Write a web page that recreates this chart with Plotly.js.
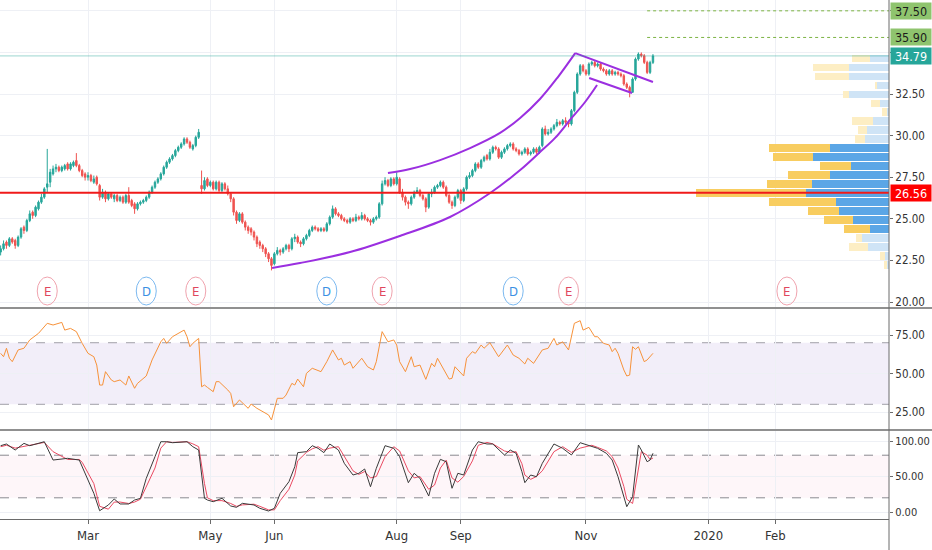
<!DOCTYPE html>
<html><head><meta charset="utf-8">
<script src="https://cdn.plot.ly/plotly-3.0.1.min.js"></script>
<style>html,body{margin:0;padding:0;background:#fff}#chart{width:932px;height:550px}</style>
</head><body><div id="chart"></div>
<script>
// ---------- data ----------
const holidays = ['2019-01-21','2019-02-18','2019-04-19','2019-05-27','2019-07-04','2019-09-02','2019-11-28'];

const openP = [23.0,23.2,23.6,23.4,23.8,23.7,23.4,23.9,24.5,24.3,
24.9,25.4,25.2,25.6,26.0,26.3,26.9,27.2,27.7,28.0,
28.1,27.9,28.0,28.3,28.0,28.2,28.5,28.2,27.9,27.7,
27.5,27.6,27.2,27.5,27.0,26.3,26.6,26.2,26.5,26.2,
26.4,26.1,26.3,26.0,26.4,26.1,25.9,25.6,25.9,26.0,
26.1,26.3,26.6,26.9,27.2,27.4,27.7,28.1,28.4,28.6,
28.8,29.1,29.3,29.5,29.8,29.6,29.2,29.4,29.9,27.0,
26.8,27.4,27.0,27.2,26.8,27.2,26.7,27.1,26.8,26.5,
26.2,25.4,24.9,25.3,24.8,24.5,24.4,24.2,23.9,23.6,
23.4,23.2,22.9,22.6,22.3,22.9,23.1,23.0,23.2,23.4,
23.2,23.8,23.9,23.6,23.5,23.8,24.0,24.3,24.5,24.4,
24.3,24.4,24.3,24.7,25.1,25.6,25.3,25.2,25.0,24.9,
24.8,25.0,24.9,25.1,25.0,25.2,25.0,24.9,24.8,25.0,
25.1,25.9,27.1,27.3,27.0,27.4,27.1,27.4,26.6,26.3,
26.0,25.9,26.3,26.6,26.7,26.4,26.2,25.7,26.5,26.6,
26.9,27.0,27.2,26.9,26.4,26.0,25.8,26.3,26.7,26.1,
26.8,27.5,27.6,27.9,28.3,28.1,28.5,28.8,28.6,29.0,
29.3,29.2,28.7,29.0,29.2,29.4,29.5,29.2,29.1,28.9,
29.0,29.2,28.9,29.0,29.2,29.0,29.4,30.4,30.1,30.2,
30.4,30.6,30.8,30.7,30.9,30.8,30.7,31.5,32.6,33.7,
34.2,33.9,33.7,34.3,34.4,34.2,34.3,34.0,33.9,33.7,
33.9,33.7,33.8,33.7,33.6,33.1,32.9,32.6,33.4,34.6,
34.9,34.8,34.4,33.8,34.4];
const highP = [23.4,23.7,23.7,23.9,23.9,23.8,24.0,24.5,24.6,25.0,
25.5,25.5,25.8,26.1,26.5,26.9,29.2,28.0,28.2,28.3,
28.2,28.2,28.3,28.4,28.4,28.5,28.95,28.3,28.0,27.8,
27.8,27.7,27.6,27.6,27.1,26.8,26.7,26.6,26.6,26.5,
26.5,26.4,26.4,26.5,26.9,26.2,26.0,26.0,26.1,26.2,
26.4,26.7,27.0,27.3,27.5,27.8,28.2,28.5,28.7,28.9,
29.2,29.4,29.6,29.9,29.9,29.7,29.5,30.0,30.4,27.9,
27.5,27.5,27.3,27.3,27.3,27.3,27.2,27.2,27.0,26.6,
26.3,25.5,25.4,25.4,24.9,24.6,24.5,24.3,24.0,23.7,
23.5,23.3,23.0,22.7,23.0,23.3,23.2,23.3,23.5,23.5,
23.9,24.1,24.0,23.7,23.9,24.1,24.4,24.6,24.6,24.5,
24.5,24.5,24.8,25.2,25.8,25.7,25.4,25.3,25.1,25.0,
25.1,25.1,25.3,25.2,25.4,25.3,25.1,25.0,25.1,25.2,
26.0,27.3,27.5,27.4,27.5,27.5,27.8,27.5,26.8,26.4,
26.1,26.4,26.7,26.9,26.8,26.5,26.3,26.6,26.8,27.0,
27.1,27.3,27.3,27.0,26.5,26.1,26.4,26.8,26.8,26.9,
27.6,27.8,28.0,28.4,28.4,28.6,28.8,28.9,29.2,29.4,
29.4,29.3,29.1,29.3,29.5,29.6,29.6,29.3,29.2,29.1,
29.3,29.3,29.1,29.3,29.3,29.4,30.5,30.6,30.4,30.5,
30.7,31.0,30.9,31.0,31.1,30.9,31.6,32.7,33.8,34.3,
34.3,34.0,34.4,34.5,34.5,34.4,34.4,34.1,34.0,34.0,
34.0,33.9,33.9,33.8,33.7,33.2,33.0,33.5,34.7,35.0,
35.0,34.9,34.5,34.5,34.9];
const lowP = [22.8,23.1,23.2,23.3,23.5,23.2,23.3,23.8,24.1,24.2,
24.8,25.0,25.1,25.5,25.9,26.2,26.6,26.9,27.6,27.8,
27.8,27.8,27.9,27.9,27.9,28.1,28.1,27.8,27.5,27.3,
27.3,27.2,27.1,27.0,26.1,26.2,26.0,26.1,26.2,26.0,
26.0,26.0,25.9,25.9,25.9,25.7,25.3,25.5,25.8,25.9,
26.0,26.2,26.5,26.8,27.1,27.3,27.6,28.0,28.3,28.5,
28.7,29.0,29.2,29.4,29.5,29.2,29.1,29.3,29.8,26.5,
26.7,26.9,26.9,26.7,26.7,26.6,26.6,26.7,26.4,26.0,
25.2,24.7,24.8,24.7,24.3,24.1,24.0,23.7,23.3,23.2,
23.0,22.7,22.4,21.9,22.2,22.8,22.8,22.9,23.1,23.0,
23.1,23.6,23.5,23.3,23.4,23.7,23.9,24.2,24.3,24.2,
24.2,24.2,24.2,24.6,25.0,25.2,25.1,24.9,24.8,24.7,
24.7,24.8,24.8,24.9,24.9,24.9,24.8,24.6,24.7,24.9,
25.0,25.8,27.0,26.9,26.9,27.0,27.0,26.5,26.1,25.8,
25.6,25.8,26.2,26.5,26.3,26.1,25.4,25.6,26.3,26.5,
26.8,26.9,26.8,26.3,25.9,25.6,25.7,26.2,25.9,26.0,
26.7,27.4,27.5,27.8,28.0,28.0,28.4,28.5,28.5,28.9,
29.1,28.6,28.6,28.9,29.1,29.3,29.1,29.0,28.8,28.8,
28.9,28.8,28.8,28.9,28.9,28.9,29.3,30.0,30.0,30.1,
30.3,30.5,30.6,30.6,30.7,30.5,30.6,31.4,32.5,33.6,
33.8,33.6,33.6,34.2,34.1,34.1,33.9,33.8,33.6,33.6,
33.6,33.6,33.6,33.5,33.0,32.8,32.3,32.6,33.3,34.5,
34.7,34.3,33.7,33.7,34.3];
const closeP = [23.2,23.5,23.4,23.8,23.6,23.4,23.9,24.4,24.3,24.9,
25.3,25.2,25.7,26.0,26.3,26.8,27.1,27.8,28.0,28.1,
27.9,28.1,28.2,28.0,28.3,28.4,28.2,27.9,27.6,27.5,
27.6,27.3,27.4,27.1,26.3,26.6,26.2,26.5,26.3,26.4,
26.1,26.3,26.0,26.4,26.0,25.8,25.6,25.9,26.0,26.1,
26.3,26.6,26.9,27.2,27.4,27.7,28.1,28.4,28.6,28.8,
29.1,29.3,29.5,29.8,29.6,29.3,29.4,29.9,30.2,26.8,
27.3,27.0,27.2,26.8,27.2,26.7,27.1,26.8,26.5,26.2,
25.4,24.9,25.3,24.8,24.5,24.3,24.2,23.9,23.5,23.4,
23.2,22.9,22.6,22.2,22.9,23.1,23.0,23.2,23.4,23.2,
23.8,23.9,23.6,23.5,23.8,24.0,24.3,24.5,24.4,24.3,
24.4,24.3,24.7,25.1,25.6,25.3,25.2,25.0,24.9,24.8,
25.0,24.9,25.1,25.0,25.2,25.0,24.9,24.8,25.0,25.1,
25.9,27.1,27.3,27.0,27.4,27.1,27.5,26.6,26.3,26.0,
25.9,26.3,26.6,26.7,26.4,26.2,25.7,26.5,26.6,26.9,
27.0,27.2,26.9,26.4,26.0,25.8,26.3,26.7,26.1,26.8,
27.5,27.6,27.9,28.3,28.1,28.5,28.7,28.6,29.0,29.3,
29.2,28.7,29.0,29.2,29.4,29.5,29.2,29.1,28.9,29.0,
29.2,28.9,29.0,29.2,29.0,29.3,30.4,30.1,30.2,30.4,
30.6,30.8,30.7,30.9,30.8,30.7,31.5,32.6,33.7,34.2,
33.9,33.7,34.3,34.4,34.2,34.3,34.0,33.9,33.7,33.9,
33.7,33.8,33.7,33.6,33.1,32.9,32.6,33.4,34.6,34.9,
34.8,34.4,33.8,34.4,34.79];

const rsiIdx = [0,1,2,3,4,6,8,10,13,16,18,21,22,24,26,28,30,32,33,34,35,36,38,39,41,43,44,46,47,50,52,53,55,56,57,59,61,63,64,65,66,68,69,70,71,73,74,75,78,79,80,82,85,86,88,92,93,95,97,98,100,101,102,104,105,107,110,112,114,116,117,118,120,121,124,126,128,129,131,133,135,136,137,139,141,142,144,146,148,149,150,153,154,155,156,159,160,162,163,165,166,168,171,174,176,178,180,181,183,186,188,190,191,193,195,197,199,200,202,204,205,207,209,210,211,212,214,215,216,217,218,219,221,222,224];
const rsiVal = [63.1,60.9,66.4,59.9,57.7,65.3,66.4,71.8,76.1,82.6,81.5,83.2,78.2,79.3,77.2,69.6,63.1,60.9,55.5,42.5,42.5,51.2,45.8,44.7,45.8,42.5,48.4,40.4,43.6,48.4,58.8,63.1,70.6,72.8,69.6,73.9,76.1,78.2,73.9,67.4,69.6,72.8,41.4,42.5,41.0,38.2,44.7,44.7,39.3,37.1,28.4,32.8,27.4,30.2,27.4,23.1,19.8,33.9,33.9,36.0,43.6,42.5,46.4,41.4,50.1,53.4,51.2,57.7,65.3,58.8,59.9,55.5,57.7,53.4,59.9,54.4,52.3,57.7,77.2,70.6,71.8,68.5,57.7,51.2,60.9,54.4,55.5,46.2,56.6,54.4,59.9,49.0,46.4,46.9,54.4,48.4,59.9,64.2,63.1,68.5,66.4,70.0,60.9,68.5,62.0,59.9,56.2,59.9,56.6,65.3,66.4,72.8,68.5,70.6,65.3,82.6,84.3,78.2,80.0,73.9,73.9,69.6,68.5,64.2,66.4,63.1,52.3,48.4,49.0,67.4,65.7,67.4,57.7,58.8,63.1];

const stochIdx = [0,2,5,8,10,15,18,23,27,28,32,34,37,39,41,44,46,48,50,53,55,57,59,64,66,68,70,71,73,76,79,81,83,87,89,92,94,96,99,101,102,105,107,109,111,113,116,118,121,123,125,127,129,132,135,137,140,142,144,147,149,151,153,155,157,159,162,164,167,169,173,175,177,179,180,182,184,186,190,193,196,199,203,205,208,210,212,214,215,217,219,220,222,223,224];
const stochK = [93.4,95.8,87.3,96.7,93.4,99,73.2,75.6,73.2,63.8,26.3,1.8,9.9,18.3,11.3,11.3,16.9,19.2,47.4,77.9,99,99,97.6,99,92.0,87.3,19.3,16.9,14.5,19.3,8.5,6.6,12.2,9.9,5.2,1.4,5.2,26.3,42.7,63.8,83.6,85,93.4,89.7,83.6,95.8,87.3,68.6,52.1,54.5,60.6,35.6,61.5,93.4,89.7,77.9,41.3,54.5,47.4,22.5,54.5,74.2,70.8,33.4,54.5,52.1,87.3,99,95.8,95.8,80.3,87.3,82.7,56.8,41.3,52.1,49.7,68.6,95.8,89.7,80.3,97.6,92.0,89.7,82.7,73.2,49.7,21.5,7.5,21.5,94.4,87.3,70.8,73.2,82.7];
const stochD = [92,94,90,93,94,98,85,74,74,70,40,8,4,14,14,12,14,18,35,62,90,99,98,99,96,92,40,20,16,16,12,8,10,11,8,3,3,16,32,52,72,84,89,92,87,90,92,78,58,53,57,48,50,78,92,86,58,48,50,32,38,62,73,48,42,50,72,94,98,96,86,84,85,68,52,46,50,58,85,92,84,90,94,91,86,78,62,36,18,12,60,85,80,74,76];

// visible-range volume profile (row price, up volume, down volume, in value area)
const vpPrice = [22.22,22.76,23.30,23.84,24.38,24.92,25.46,26.00,26.54,27.08,27.62,28.16,28.70,29.24,29.78,30.32,30.86,31.40,31.94,32.48,33.02,33.56,34.10,34.64];
const vpUp    = [2,4,21,27,19,36,50,53,83,77,59,38,76,59,24,22,16,2,9,40,12,40,40,19];
const vpDown  = [3,5,19,6,26,29,31,67,110,45,42,31,40,61,10,9,21,5,9,6,2,34,36,18];
const vpValueArea = [0,0,0,0,1,1,1,1,1,1,1,1,1,1,0,0,0,0,0,0,0,0,0,0];

// drawings (bar index, price)
const lowerArcIdx = [93.2,102.8,120.0,137.1,154.3,168.1,178.4,185.2,190.4,195.5,200.7,204.8];
const lowerArcPrice = [22.04,22.34,23.00,23.97,25.11,26.55,27.93,29.01,29.86,30.94,32.02,33.04];
const upperArcIdx = [133.0,140.6,150.9,161.2,171.5,178.4,185.2,191.1,197.3];
const upperArcPrice = [27.75,27.99,28.53,29.25,30.16,31.06,32.2,33.46,34.96];
const flagTopIdx = [197.3,224.0];  const flagTopPrice = [34.96,33.22];
const flagBotIdx = [202.1,216.8];  const flagBotPrice = [33.46,32.56];
const targetLevels = [37.50,35.90];
const targetStartIdx = 222;
const supportLevel = 26.56;
const lastPrice = 34.79;
const earningsIdx = [16,67,131,195,270];
const dividendIdx = [50,112,176];
const eventLevel = 20.66;

const tickDates = ['2019-03-01 12:00:00','2019-05-01 12:00:00','2019-06-03 12:00:00','2019-08-01 12:00:00','2019-09-03 12:00:00','2019-11-01 12:00:00','2020-01-01 12:00:00','2020-02-03 12:00:00'];
const tickText = ['Mar','May','Jun','Aug','Sep','Nov','2020','Feb'];
const priceTicks = [20,22.5,25,27.5,30,32.5,35,37.5];
const priceTickText = ['20.00','22.50','25.00','27.50','30.00','32.50','',''];

// ---------- trading calendar ----------
const dayMs = [];
let t = Date.UTC(2019,0,16);
while (dayMs.length < 330) {
  const dt = new Date(t); const wd = dt.getUTCDay(); const s = dt.toISOString().slice(0,10);
  if (wd !== 0 && wd !== 6 && holidays.indexOf(s) < 0) dayMs.push(t + 12*3600000);
  t += 86400000;
}
function fmt(ms){ return new Date(ms).toISOString().slice(0,19).replace('T',' '); }
function xAt(f){ const k = Math.round(f); return fmt(dayMs[k] + (f-k)*86400000); }
const candleX = closeP.map((_, i) => xAt(i));
const xStart = xAt(-0.22), xEnd = xAt(305.05);

const FONT = '"DejaVu Sans Condensed","Liberation Sans",sans-serif';
const PURPLE = '#9b2fe0';
const TICKSIZE = 11.5;

const traces = [];
traces.push({type:'candlestick', x:candleX, open:openP, high:highP, low:lowP, close:closeP,
  xaxis:'x', yaxis:'y', hoverinfo:'skip',
  increasing:{line:{color:'#26a69a', width:1}, fillcolor:'#26a69a'},
  decreasing:{line:{color:'#ef5350', width:1}, fillcolor:'#ef5350'}});
traces.push({type:'bar', orientation:'h', y:vpPrice, x:vpUp, xaxis:'x2', yaxis:'y', width:0.46,
  marker:{color:vpValueArea.map(v => v ? '#5ba6e6' : '#cfe4f6'), line:{width:0}}, hoverinfo:'skip'});
traces.push({type:'bar', orientation:'h', y:vpPrice, x:vpDown, xaxis:'x2', yaxis:'y', width:0.46,
  marker:{color:vpValueArea.map(v => v ? '#f8cd60' : '#fdeec4'), line:{width:0}}, hoverinfo:'skip'});
function lineTrace(idx, pr, smooth){
  return {type:'scatter', mode:'lines', x:idx.map(xAt), y:pr, xaxis:'x', yaxis:'y',
    line:{color:PURPLE, width:2, shape: smooth ? 'spline' : 'linear'}, hoverinfo:'skip'};
}
traces.push(lineTrace(lowerArcIdx, lowerArcPrice, true));
traces.push(lineTrace(upperArcIdx, upperArcPrice, true));
traces.push(lineTrace(flagTopIdx, flagTopPrice, false));
traces.push(lineTrace(flagBotIdx, flagBotPrice, false));
traces.push({type:'scatter', mode:'lines', x:rsiIdx.map(xAt), y:rsiVal, xaxis:'x', yaxis:'y2',
  line:{color:'#f7923a', width:1}, hoverinfo:'skip'});
traces.push({type:'scatter', mode:'lines', x:stochIdx.map(xAt), y:stochD, xaxis:'x', yaxis:'y3',
  line:{color:'#ea4a62', width:1}, hoverinfo:'skip'});
traces.push({type:'scatter', mode:'lines', x:stochIdx.map(xAt), y:stochK, xaxis:'x', yaxis:'y3',
  line:{color:'#3a3a3a', width:1}, hoverinfo:'skip'});

const shapes = [];
shapes.push({type:'rect', xref:'paper', x0:0, x1:1, yref:'y2', y0:30, y1:70, fillcolor:'rgba(126,87,194,0.10)', line:{width:0}, layer:'below'});
shapes.push({type:'rect', xref:'paper', x0:0, x1:1, yref:'y3', y0:20, y1:80, fillcolor:'rgba(233,30,99,0.04)', line:{width:0}, layer:'below'});
[70,30].forEach(v => shapes.push({type:'line', xref:'paper', x0:0, x1:1, yref:'y2', y0:v, y1:v, line:{color:'#a0a0a8', width:1, dash:'dash'}, layer:'below'}));
[80,20].forEach(v => shapes.push({type:'line', xref:'paper', x0:0, x1:1, yref:'y3', y0:v, y1:v, line:{color:'#8a8a90', width:1, dash:'dash'}, layer:'below'}));
shapes.push({type:'line', xref:'paper', x0:0, x1:1, yref:'y', y0:lastPrice, y1:lastPrice, line:{color:'rgba(38,166,154,0.45)', width:1}, layer:'above'});
shapes.push({type:'line', xref:'paper', x0:0, x1:1, yref:'y', y0:supportLevel, y1:supportLevel, line:{color:'#f01a1a', width:2}, layer:'above'});
targetLevels.forEach(v => shapes.push({type:'line', xref:'x', x0:xAt(targetStartIdx), x1:xEnd, yref:'y', y0:v, y1:v, line:{color:'#7cb342', width:1, dash:'dot'}, layer:'above'}));
const H = 519;
[308, 430].forEach(py => shapes.push({type:'line', xref:'paper', x0:0, x1:932/889, yref:'paper', y0:(H-py)/H, y1:(H-py)/H, line:{color:'#6b6b6b', width:1.5}, layer:'above'}));
shapes.push({type:'line', xref:'paper', x0:1, x1:1, yref:'paper', y0:-31/H, y1:1, line:{color:'#6b6b6b', width:1}, layer:'above'});
function eventShape(i, col){
  return {type:'circle', xref:'x', yref:'y', xsizemode:'pixel', ysizemode:'pixel', xanchor:xAt(i), yanchor:eventLevel,
    x0:-10, x1:10, y0:-14, y1:14, line:{color:col, width:1}, fillcolor:'rgba(255,255,255,0)', layer:'above'};
}
earningsIdx.forEach(i => shapes.push(eventShape(i, '#f0a3ae')));
dividendIdx.forEach(i => shapes.push(eventShape(i, '#7cb9f0')));

const annotations = [];
earningsIdx.forEach(i => annotations.push({xref:'x', yref:'y', x:xAt(i), y:eventLevel, text:'E', showarrow:false, font:{family:FONT, size:13, color:'#e0475d'}}));
dividendIdx.forEach(i => annotations.push({xref:'x', yref:'y', x:xAt(i), y:eventLevel, text:'D', showarrow:false, font:{family:FONT, size:13, color:'#3b8fe3'}}));
function priceBox(v, bg, fg){
  return {xref:'paper', x:1, xanchor:'left', xshift:1, yref:'y', y:v, text:v.toFixed(2), showarrow:false,
    bgcolor:bg, width:40, height:16, borderpad:0, font:{family:FONT, size:12.5, color:fg}};
}
targetLevels.forEach(v => annotations.push(priceBox(v, '#8fc46e', '#1b1b1b')));
annotations.push(priceBox(lastPrice, '#26a69a', '#ffffff'));
annotations.push(priceBox(supportLevel, '#ff0000', '#ffffff'));

const gridC = '#eef0f5';
const yCommon = {side:'right', anchor:'x', ticks:'outside', ticklen:3, tickcolor:'#6b6b6b', showgrid:true, gridcolor:gridC,
  zeroline:false, showline:false, tickfont:{family:FONT, size:TICKSIZE, color:'#333'}, fixedrange:true};
const layout = {
  width:932, height:550, margin:{l:0, r:43, t:0, b:31},
  paper_bgcolor:'#ffffff', plot_bgcolor:'#ffffff', showlegend:false,
  barmode:'stack', bargap:0, dragmode:false,
  font:{family:FONT, size:TICKSIZE, color:'#333'},
  xaxis:{type:'date', range:[xStart, xEnd], rangeslider:{visible:false},
    rangebreaks:[{bounds:['sat','mon']}, {values:holidays}],
    tickmode:'array', tickvals:tickDates, ticktext:tickText, ticks:'outside', ticklen:4, tickcolor:'#6b6b6b',
    showline:true, linecolor:'#6b6b6b', linewidth:1, showgrid:true, gridcolor:gridC, zeroline:false,
    anchor:'y3', domain:[0,1], tickfont:{family:FONT, size:13, color:'#333'}, fixedrange:true},
  xaxis2:{overlaying:'x', anchor:'y', range:[889,0], visible:false, showgrid:false, zeroline:false, fixedrange:true},
  yaxis:Object.assign({}, yCommon, {domain:[1-307/H, 1], range:[19.70, 38.15], tickmode:'array', tickvals:priceTicks, ticktext:priceTickText}),
  yaxis2:Object.assign({}, yCommon, {domain:[(H-429)/H, (H-309)/H], range:[13.96, 91.9], tickmode:'array', tickvals:[25,50,75], ticktext:['25.00','50.00','75.00']}),
  yaxis3:Object.assign({}, yCommon, {domain:[0, (H-431)/H], range:[-9.86, 114.1], tickmode:'array', tickvals:[0,50,100], ticktext:['0.00','50.00','100.00'],
    tickfont:{family:FONT, size:11, color:'#333'}}),
  shapes:shapes, annotations:annotations
};
Plotly.newPlot('chart', traces, layout, {displayModeBar:false, staticPlot:true});
</script>
</body></html>
